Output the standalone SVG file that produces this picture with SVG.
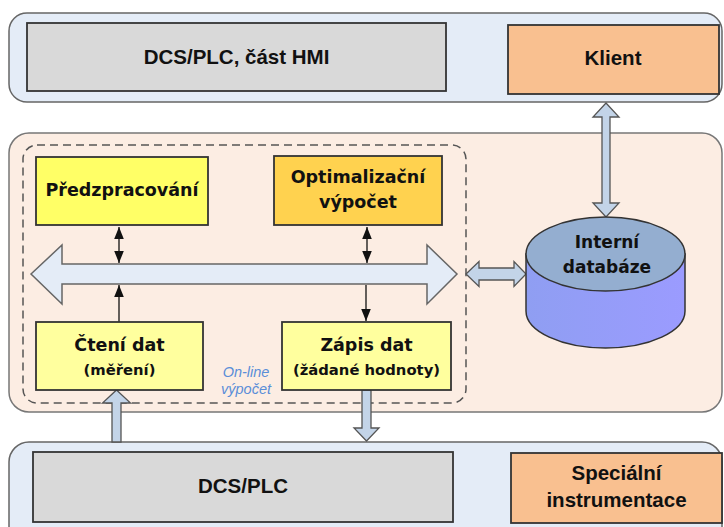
<svg xmlns="http://www.w3.org/2000/svg" width="724" height="527" viewBox="0 0 724 527">
<defs>
<style>
.panel-blue{fill:#e4ecf7;stroke:#666;stroke-width:1.5}
.panel-peach{fill:#fcede3;stroke:#777;stroke-width:1.5}
.box{stroke:#333;stroke-width:1.8}
.gray{fill:#d9d9d9}
.orange{fill:#f9c090}
.yellow{fill:#ffff66}
.lyellow{fill:#ffff9e}
.gold{fill:#ffd24f}
.t1{font-family:"Liberation Sans",Arial,sans-serif;font-weight:bold;font-size:20.5px;fill:#111;text-anchor:middle}
.t2{font-family:"DejaVu Sans",Verdana,sans-serif;font-weight:bold;font-size:17.5px;fill:#111;text-anchor:middle}
.t3{font-family:"DejaVu Sans",Verdana,sans-serif;font-weight:bold;font-size:14.8px;fill:#111;text-anchor:middle}
.ti{font-family:"Liberation Sans",Arial,sans-serif;font-style:italic;font-size:14.5px;fill:#5a8ed8;text-anchor:middle}
.block{fill:#c3d4e8;stroke:#555;stroke-width:1.3;stroke-linejoin:miter}
.bus{fill:#e4ecf7;stroke:#666;stroke-width:1.5}
.thin{stroke:#111;stroke-width:1.3;fill:none}
</style>
<marker id="ah" markerWidth="12" markerHeight="12" refX="12" refY="6" orient="auto-start-reverse" markerUnits="userSpaceOnUse">
<path d="M0,1.2 L12,6 L0,10.8 Z" fill="#111"/>
</marker>
<linearGradient id="dbg" x1="0" y1="0" x2="1" y2="0">
<stop offset="0" stop-color="#8f9ef2"/>
<stop offset="1" stop-color="#9b9bff"/>
</linearGradient>
</defs>

<g id="panels">
<rect class="panel-blue" x="9" y="13" width="713" height="89" rx="18"/>
<rect class="panel-peach" x="9" y="133" width="713" height="279" rx="20"/>
<rect class="panel-blue" x="9" y="442" width="713" height="110" rx="20"/>
<rect x="23" y="145" width="443" height="258" rx="14" fill="none" stroke="#555" stroke-width="1.5" stroke-dasharray="8,5"/>
</g>

<g id="connectors">
<path class="bus" d="M31,274 L62,245 L62,264 L427,264 L427,245 L457,274 L427,304 L427,284 L62,284 L62,304 Z"/>
<path class="block" d="M606,103 L619,117 L610,117 L610,203 L619,203 L606,217 L593,203 L602,203 L602,117 L593,117 Z"/>
<path class="block" d="M466,274 L479,261.5 L479,268 L514,268 L514,261.5 L526,274 L514,286.5 L514,280 L479,280 L479,286.5 Z"/>
<path class="block" d="M116.5,390 L130.5,403 L121,403 L121,442 L112,442 L112,403 L102.5,403 Z"/>
<path class="block" d="M362,390 L371,390 L371,428 L379,428 L366.5,441 L354,428 L362,428 Z"/>
<line class="thin" x1="119" y1="227" x2="119" y2="263" marker-start="url(#ah)" marker-end="url(#ah)"/>
<line class="thin" x1="367" y1="227" x2="367" y2="263" marker-start="url(#ah)" marker-end="url(#ah)"/>
<line class="thin" x1="119" y1="322" x2="119" y2="285" marker-end="url(#ah)"/>
<line class="thin" x1="366" y1="285" x2="366" y2="321" marker-end="url(#ah)"/>
</g>

<g id="hmi">
<rect class="box gray" x="27" y="23" width="419" height="68"/>
<text class="t1" x="236.5" y="64">DCS/PLC, část HMI</text>
</g>
<g id="klient">
<rect class="box orange" x="508" y="25" width="211" height="69"/>
<text class="t1" x="613" y="65">Klient</text>
</g>

<g id="predzpracovani">
<rect class="box yellow" x="36" y="157" width="172" height="68"/>
<text class="t2" x="122" y="196">Předzpracování</text>
</g>
<g id="optimalizace">
<rect class="box gold" x="274" y="156" width="168" height="69"/>
<text class="t2" x="358" y="183">Optimalizační</text>
<text class="t2" x="358" y="208">výpočet</text>
</g>
<g id="cteni">
<rect class="box lyellow" x="36" y="322" width="167" height="68"/>
<text class="t2" x="119.5" y="351">Čtení dat</text>
<text class="t3" x="119.5" y="375">(měření)</text>
</g>
<g id="zapis">
<rect class="box lyellow" x="282" y="322" width="169" height="68"/>
<text class="t2" x="366.5" y="351">Zápis dat</text>
<text class="t3" x="366.5" y="375">(žádané hodnoty)</text>
</g>
<g id="online">
<text class="ti" x="246" y="377">On-line</text>
<text class="ti" x="246" y="394">výpočet</text>
</g>

<g id="databaze">
<path d="M526,254 L526,311 A79.5,37 0 0 0 685,311 L685,254 Z" fill="url(#dbg)" stroke="#333" stroke-width="1.5"/>
<ellipse cx="605.5" cy="254" rx="79.5" ry="37" fill="#94aed0" stroke="#333" stroke-width="1.5"/>
<text class="t2" x="607" y="248" style="font-size:17px">Interní</text>
<text class="t2" x="607" y="273" style="font-size:17px">databáze</text>
</g>

<g id="dcs">
<rect class="box gray" x="33" y="452" width="420" height="70"/>
<text class="t1" x="243" y="493">DCS/PLC</text>
</g>
<g id="specialni">
<rect class="box orange" x="511" y="453" width="211" height="70"/>
<text class="t1" x="616.5" y="480">Speciální</text>
<text class="t1" x="616.5" y="507">instrumentace</text>
</g>
</svg>
